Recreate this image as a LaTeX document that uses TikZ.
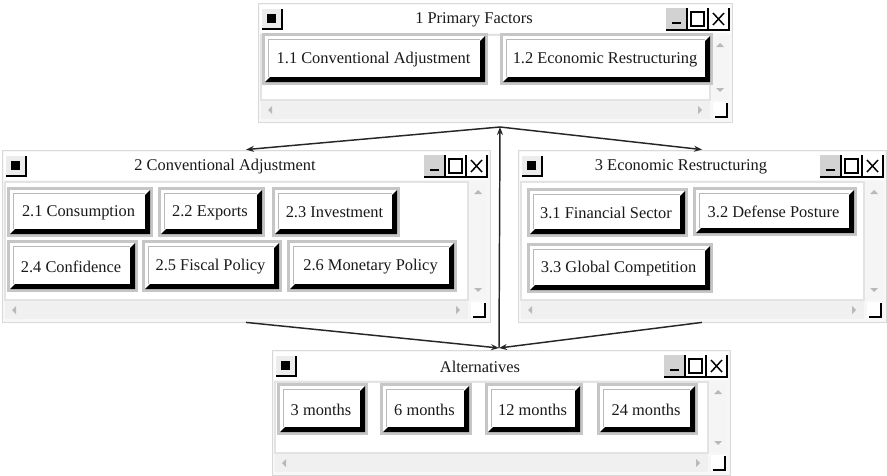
\documentclass[tikz,border=0pt]{standalone}
\usepackage{fontspec}
\setmainfont{Liberation Serif}
\usetikzlibrary{arrows.meta,fit}
\tikzset{
  uitext/.style={font=\fontsize{12.3}{14}\selectfont, inner sep=0pt, text=black!90},
  winbox/.style={inner sep=0pt, draw=gray!30, line width=0.6pt, fill=gray!6},
  arr/.style={draw=black!85, line width=1.1pt, -{Stealth[length=6pt,width=4.5pt]}},
  plain/.style={draw=black!85, line width=1.1pt}
}
\newcommand\uiwin[6]{%
  \node[winbox, fit={(#2,#3) (#4,#5)}] (#1) {};
  \fill[white] (#2+2,#3+2) rectangle (#4-2,#3+30);
  % system icon
  \fill[gray!15] (#2+4,#3+6) rectangle (#2+24,#3+26);
  \draw[black, line width=1.2pt] (#2+4,#3+26) -- (#2+24,#3+26) -- (#2+24,#3+6);
  \fill[black] (#2+9,#3+11) rectangle (#2+18,#3+20);
  % title
  \node[uitext] (#1t) at ({(#2+24+#4-66)/2},#3+17) {#6};
  % min max close
  \fill[gray!35] (#4-66,#3+5) rectangle (#4-45,#3+27);
  \fill[white] (#4-45,#3+5) rectangle (#4-3,#3+27);
  \draw[black, line width=1.1pt] (#4-66,#3+27) -- (#4-3,#3+27) -- (#4-3,#3+5)
     (#4-45,#3+5) -- (#4-45,#3+27) (#4-24,#3+5) -- (#4-24,#3+27);
  \draw[black, line width=2pt] (#4-60,#3+20) -- (#4-51,#3+20);
  \draw[black, line width=1.1pt] (#4-41,#3+9) rectangle (#4-28,#3+23);
  \draw[black, line width=1.1pt] (#4-19,#3+10) -- (#4-8,#3+22) (#4-19,#3+22) -- (#4-8,#3+10);
  % content panel
  \filldraw[fill=white, draw=gray!22, line width=1pt] (#2+3,#3+32) rectangle (#4-22,#5-22);
  % vertical scrollbar
  \fill[gray!8] (#4-21,#3+32) rectangle (#4-3,#5-22);
  \fill[gray!55] (#4-16,#3+44) -- (#4-8,#3+44) -- (#4-12,#3+40) -- cycle;
  \fill[gray!55] (#4-16,#5-34) -- (#4-8,#5-34) -- (#4-12,#5-30) -- cycle;
  % horizontal scrollbar
  \fill[gray!12] (#2+3,#5-21) rectangle (#4-22,#5-3);
  \fill[gray!55] (#2+14,#5-16) -- (#2+14,#5-8) -- (#2+10,#5-12) -- cycle;
  \fill[gray!55] (#4-34,#5-16) -- (#4-34,#5-8) -- (#4-30,#5-12) -- cycle;
  % resize grip
  \fill[white] (#4-19,#5-20) rectangle (#4-5,#5-5);
  \draw[black, line width=1.2pt] (#4-17,#5-5) -- (#4-5,#5-5) -- (#4-5,#5-19);
}
\newcommand\uibtn[6]{%
  \fill[gray!45] (#2,#3) rectangle (#4,#5);
  \fill[white] (#2+3,#3+3) rectangle (#4-3,#5-3);
  \fill[black] (#4-3,#3+3) -- (#4-3,#5-3) -- (#2+3,#5-3) -- (#2+8,#5-8)
     -- (#4-8,#5-8) -- (#4-8,#3+8) -- cycle;
  \draw[gray!55, line width=0.7pt] (#2+6,#5-8) -- (#2+6,#3+6) -- (#4-8,#3+6);
  \node[uitext] (#1) at ({(#2+#4)/2-1.5},{(#3+#5)/2+0.5}) {#6};
}
\begin{document}
\begin{tikzpicture}[x=0.75pt,y=-0.75pt]
\useasboundingbox (0,0) rectangle (887,475);
% windows
\uiwin{w1}{258}{3}{732}{122}{1 Primary Factors}
\uibtn{b11}{262}{33}{488}{85}{1.1 Conventional Adjustment}
\uibtn{b12}{500}{33}{713}{85}{1.2 Economic Restructuring}

\uiwin{w2}{2}{150}{490}{322}{2 Conventional Adjustment}
\uibtn{b21}{7}{187}{153}{237}{2.1 Consumption}
\uibtn{b22}{158}{187}{265}{237}{2.2 Exports}
\uibtn{b23}{272}{187}{400}{237}{2.3 Investment}
\uibtn{b24}{7}{240}{138}{292}{2.4 Confidence}
\uibtn{b25}{142}{240}{282}{292}{2.5 Fiscal Policy}
\uibtn{b26}{287}{240}{457}{292}{2.6 Monetary Policy}

\uiwin{w3}{518}{150}{886}{322}{3 Economic Restructuring}
\uibtn{b31}{527}{188}{688}{237}{3.1 Financial Sector}
\uibtn{b32}{693}{187}{857}{236}{3.2 Defense Posture}
\uibtn{b33}{527}{243}{713}{293}{3.3 Global Competition}

\uiwin{w4}{272}{350}{730}{475}{Alternatives}
\uibtn{b41}{277}{383}{368}{435}{3 months}
\uibtn{b42}{380}{383}{472}{435}{6 months}
\uibtn{b43}{485}{383}{583}{435}{12 months}
\uibtn{b44}{597}{383}{698}{435}{24 months}

% connectors
\coordinate (j1) at (500,127);
\coordinate (j2) at (499,348);
\draw[arr] (j1) -- (w2.north);
\draw[arr] (j1) -- (w3.north);
\draw[arr] (w2.south) -- (j2);
\draw[arr] (w3.south) -- (j2);
\draw[arr] (j2) -- (j1);
\end{tikzpicture}
\end{document}
